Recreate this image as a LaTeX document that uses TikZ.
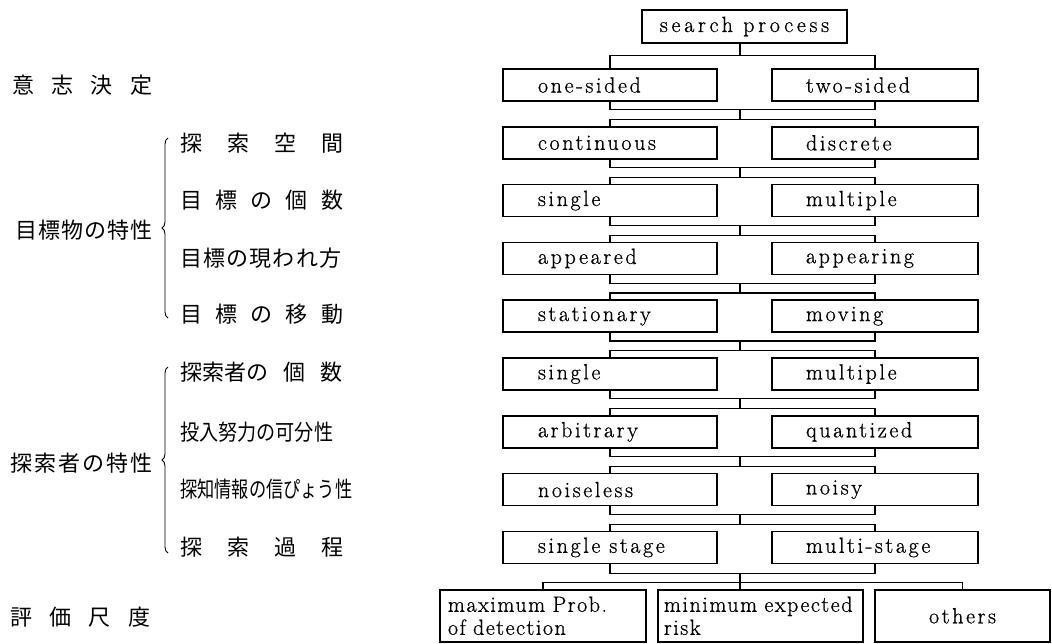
\documentclass[tikz,border=0pt]{standalone}
\usepackage{fontspec}
\usepackage{graphicx}
\newfontfamily\jpfont{Noto Sans CJK JP}
\newfontfamily\boxfam[LetterSpace=12,FakeBold=0.8]{Latin Modern Roman}
\newfontfamily\boxfamb[LetterSpace=7,FakeBold=0.8]{Latin Modern Roman}
\newfontfamily\rootfam[LetterSpace=17,FakeBold=0.8]{Latin Modern Roman}
\usetikzlibrary{decorations.pathreplacing}
\newcommand\boxfont{\boxfam\fontsize{22}{23}\selectfont}
\newcommand\boxfontb{\boxfamb\fontsize{22}{23}\selectfont}
\newcommand\rootfont{\rootfam\fontsize{22}{23}\selectfont}
\newcommand\sprd[2]{\makebox[#1][s]{#2}}
\begin{document}
\begin{tikzpicture}[x=1pt,y=-1pt,
  box/.style={draw, line width=1.5pt, minimum height=32pt, inner ysep=0pt, font=\boxfont},
  lbox/.style={box, text width=144pt, inner xsep=35pt, align=left},
  rbox/.style={box, text width=138pt, inner xsep=34pt, align=left},
  conn/.style={line width=1.2pt},
  jp/.style={font=\jpfont\fontsize{22}{26}\selectfont, inner sep=0pt, anchor=west},
  brc/.style={line width=0.9pt, decorate, decoration={brace, amplitude=6pt}}]
\useasboundingbox (0,0) rectangle (1052,643);
\coordinate (cx) at (740,0);

% root
\node[box, minimum width=205pt, minimum height=33pt, font=\rootfont] (S) at (744.5,26.5) {search process};

% rows
\foreach \i/\l/\r in {1/one-sided/two-sided, 2/continuous/discrete, 3/single/multiple,
  4/appeared/appearing, 5/stationary/moving, 6/single/multiple, 7/arbitrary/quantized,
  8/noiseless/noisy}{
  \pgfmathsetmacro\yy{85+57.8*(\i-1)}
  \node[lbox] (L\i) at (610,\yy) {\l};
  \node[rbox] (R\i) at (875,\yy) {\r};
}
\node[lbox] (L9) at (610,547.4) {single\hspace*{9pt}stage};
\node[rbox] (R9) at (875,547.4) {multi-stage};

% top connector
\draw[conn] (S.south -| cx) -- ++(0,12) coordinate (t0);
\draw[conn] (L1.north) |- (t0) -| (R1.north);

% row connectors
\foreach \i [evaluate=\i as \j using int(\i+1)] in {1,...,8}{
  \draw[conn] (L\i.south) -- ++(0,8) coordinate (m\i) -| (R\i.south);
  \draw[conn] (m\i -| cx) -- ++(0,9.8) coordinate (s\i);
  \draw[conn] (L\j.north) |- (s\i) -| (R\j.north);
}

% bottom boxes
\node[box, anchor=north, minimum width=206pt, minimum height=52pt, text width=190pt, inner xsep=8pt, align=left, font=\boxfontb] (B1) at (543,589) {maximum Prob.\\of detection};
\node[box, anchor=north, minimum width=205pt, minimum height=52pt, text width=193pt, inner xsep=6pt, align=left, font=\boxfontb] (B2) at (760.5,589) {minimum expected\\risk};
\node[box, anchor=north, minimum width=175pt, minimum height=52pt] (B3) at (962.5,589) {others};

\draw[conn] (L9.south) -- ++(0,9.6) coordinate (m9) -| (R9.south);
\draw[conn] (m9 -| cx) -- ++(0,9) coordinate (s9);
\draw[conn] (B1.north) |- (s9) -| (B3.north);
\draw[conn] (s9) -- (B2.north -| cx);

% left labels
\node[jp] (g0) at (12,85) {\sprd{140pt}{意\hfill 志\hfill 決\hfill 定}};
\node[jp] (g1) at (15,230) {\sprd{137pt}{目\hfill 標\hfill 物\hfill の\hfill 特\hfill 性}};
\node[jp] (g2) at (10,463) {\sprd{142pt}{探\hfill 索\hfill 者\hfill の\hfill 特\hfill 性}};
\node[jp] (g3) at (10,617) {\sprd{140pt}{評\hfill 価\hfill 尺\hfill 度}};

\node[jp] (i2) at (180,142.8) {\sprd{163pt}{探\hfill 索\hfill 空\hfill 間}};
\node[jp] (i3) at (180,200.6) {\sprd{163pt}{目\hfill 標\hfill の\hfill 個\hfill 数}};
\node[jp] (i4) at (180,258.4) {\sprd{161pt}{目\hfill 標\hfill の\hfill 現\hfill わ\hfill れ\hfill 方}};
\node[jp] (i5) at (180,314) {\sprd{163pt}{目\hfill 標\hfill の\hfill 移\hfill 動}};
\node[jp] (i6) at (180,372) {\sprd{162pt}{探索者の\hfill 個\hfill 数}};
\node[jp] (i7) at (180,431.8) {\resizebox{153pt}{\height}{投入努力の可分性}};
\node[jp] (i8) at (180,489.6) {\resizebox{172pt}{\height}{探知情報の信ぴょう性}};
\node[jp] (i9) at (180,547.4) {\sprd{163pt}{探\hfill 索\hfill 過\hfill 程}};

% braces
\draw[brc] (168,318) -- (168,138);
\draw[brc] (168,553) -- (168,367);
\end{tikzpicture}
\end{document}
